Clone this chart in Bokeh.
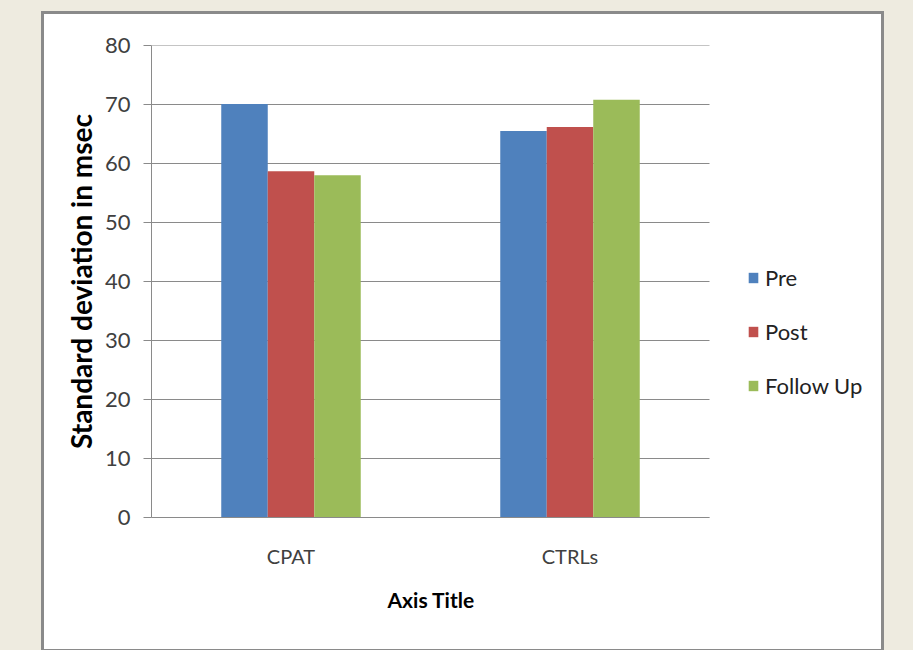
from bokeh.plotting import figure
from bokeh.models import Range1d, FixedTicker, Legend, LegendItem, Title
from bokeh.embed import file_html
from bokeh.resources import INLINE

categories = ["CPAT", "CTRLs"]
series = ["Pre", "Post", "Follow Up"]
pre = [70.1, 65.5]
post = [58.7, 66.2]
follow_up = [58.0, 70.8]
y_ticks = [0, 10, 20, 30, 40, 50, 60, 70, 80]
colors = ["#4f81bd", "#c0504d", "#9bbb59"]

FONT = "Lato"
GRAY = "#8a8a8a"

n = len(categories)
centers = [i + 0.5 for i in range(n)]
# categories occupy 558 px; frame runs on to ~736 px so the legend fits inside
x_end = n * 736 / 558

p = figure(
    x_range=Range1d(0, x_end),
    y_range=Range1d(0, 80),
    width=843, height=641,
    output_backend="svg", toolbar_location=None,
    min_border_left=107, min_border_right=0,
    min_border_top=31, min_border_bottom=138,
    margin=(11, 0, 0, 41),
)
p.styles = {"border": "3px solid #8a8a8a", "background-color": "white"}
p.background_fill_color = "white"
p.border_fill_color = "white"
p.outline_line_color = None

p.xgrid.grid_line_color = None
p.ygrid.grid_line_color = None
p.segment(x0=[0] * len(y_ticks), x1=[n] * len(y_ticks), y0=y_ticks, y1=y_ticks,
          line_color=GRAY, line_width=1)

offsets = [-1/6, 0, 1/6]
values = [pre, post, follow_up]
renderers = []
for vals, off, c in zip(values, offsets, colors):
    r = p.vbar(x=[cx + off for cx in centers], top=vals, width=1/6,
               fill_color=c, line_color=None)
    renderers.append(r)

# y axis
ya = p.yaxis[0]
ya.ticker = FixedTicker(ticks=y_ticks)
ya.axis_line_color = GRAY
ya.major_tick_line_color = GRAY
ya.major_tick_out = 8
ya.major_tick_in = 0
ya.minor_tick_line_color = None
ya.major_label_text_font = FONT
ya.major_label_text_font_size = "22px"
ya.major_label_text_color = "#404040"
ya.major_label_standoff = 13
ya.axis_label = "Standard deviation in msec"
ya.axis_label_text_font = FONT
ya.axis_label_text_font_size = "28px"
ya.axis_label_text_font_style = "bold"
ya.axis_label_text_color = "#000000"
ya.axis_label_standoff = 4

# x axis
xa = p.xaxis[0]
xa.bounds = (0, n)
xa.ticker = FixedTicker(ticks=centers)
xa.major_label_overrides = {c: lab for c, lab in zip(centers, categories)}
xa.axis_line_color = GRAY
xa.major_tick_line_color = None
xa.minor_tick_line_color = None
xa.major_label_text_font = FONT
xa.major_label_text_font_size = "20px"
xa.major_label_text_color = "#404040"
xa.major_label_standoff = 20

xtitle = Title(text="Axis Title", align="left", offset=236, standoff=28,
               text_font=FONT, text_font_size="21px", text_font_style="bold",
               text_color="#000000")
p.add_layout(xtitle, "below")

items = [LegendItem(label=s, renderers=[r]) for s, r in zip(series, renderers)]
legend = Legend(items=items, location=(596, 118))
legend.label_text_font = FONT
legend.label_text_font_size = "22px"
legend.label_text_color = "#222222"
legend.glyph_width = 12
legend.glyph_height = 13
legend.label_height = 22
legend.label_standoff = 6
legend.spacing = 27
legend.padding = 0
legend.margin = 0
legend.background_fill_alpha = 0
legend.border_line_color = None
p.add_layout(legend, "center")

html = file_html(p, INLINE)
html = html.replace("</head>", "<style>html, body { background: #eeebe0 !important; overflow: hidden; }</style></head>", 1)
open("out.html", "w").write(html)
